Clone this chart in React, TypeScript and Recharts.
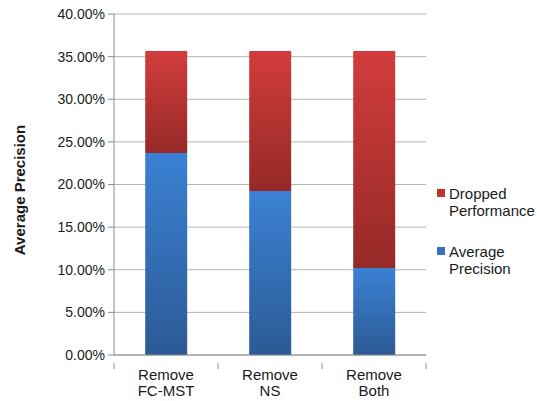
import React from 'react';
import { BarChart, Bar, XAxis, YAxis, CartesianGrid, Label } from 'recharts';

const categories = ['Remove\nFC-MST', 'Remove\nNS', 'Remove\nBoth'];
const averagePrecision = [0.237, 0.1925, 0.102];
const droppedPerformance = [0.1195, 0.164, 0.2545];
const yTicks = [0, 0.05, 0.1, 0.15, 0.2, 0.25, 0.3, 0.35, 0.4];

const data = categories.map((name, i) => ({
  name,
  ap: averagePrecision[i],
  dropped: droppedPerformance[i],
}));

const FONT = '"Liberation Sans", Arial, sans-serif';

const CategoryTick = (props: any) => {
  const { x, y, payload, index } = props;
  const off = payload.offset || 0;
  const lines = String(payload.value).split('\n');
  return (
    <g>
      <line x1={x - off} x2={x - off} y1={y} y2={y + 6} stroke="#8c8c8c" />
      {index === categories.length - 1 && (
        <line x1={x + off} x2={x + off} y1={y} y2={y + 6} stroke="#8c8c8c" />
      )}
      <text x={x} y={y} textAnchor="middle" fontFamily={FONT} fontSize={15} fill="#1a1a1a">
        {lines.map((l, i) => (
          <tspan key={i} x={x} dy={i === 0 ? 17 : 16}>
            {l}
          </tspan>
        ))}
      </text>
    </g>
  );
};

const legendItems = [
  { lines: ['Dropped', 'Performance'], color: '#c2302f' },
  { lines: ['Average', 'Precision'], color: '#3672c0' },
];

export default function App() {
  return (
    <div style={{ position: 'absolute', left: 0, top: 0, width: 537, height: 401, background: '#fff' }}>
      <BarChart
        width={537}
        height={401}
        data={data}
        margin={{ top: 14, right: 111, left: 0, bottom: 0 }}
        barCategoryGap="30%"
      >
        <defs>
          <linearGradient id="gBlue" x1="0" y1="0" x2="0" y2="1">
            <stop offset="0%" stopColor="#3b81d3" />
            <stop offset="100%" stopColor="#2c5a96" />
          </linearGradient>
          <linearGradient id="gRed" x1="0" y1="0" x2="0" y2="1">
            <stop offset="0%" stopColor="#d23d3c" />
            <stop offset="100%" stopColor="#952927" />
          </linearGradient>
        </defs>
        <CartesianGrid vertical={false} stroke="#b5b5b5" />
        <XAxis
          dataKey="name"
          height={46}
          stroke="#8c8c8c"
          tickLine={false}
          tick={<CategoryTick />}
          interval={0}
        />
        <YAxis
          width={114}
          domain={[0, 0.4]}
          ticks={yTicks}
          tickFormatter={(v: number) => (v * 100).toFixed(2) + '%'}
          stroke="#8c8c8c"
          tickSize={6}
          tickMargin={3}
          tick={{ fontFamily: FONT, fontSize: 14, fill: '#1a1a1a' }}
        >
          <Label
            content={() => (
              <text
                x={25}
                y={190}
                transform="rotate(-90 25 190)"
                textAnchor="middle"
                fontFamily={FONT}
                fontSize={15}
                fontWeight="bold"
                fill="#1a1a1a"
              >
                Average Precision
              </text>
            )}
          />
        </YAxis>
        <Bar dataKey="ap" stackId="a" fill="url(#gBlue)" isAnimationActive={false} />
        <Bar dataKey="dropped" stackId="a" fill="url(#gRed)" isAnimationActive={false} />
      </BarChart>
      <div
        style={{
          position: 'absolute',
          left: 437,
          top: 185,
          fontFamily: FONT,
          fontSize: 15,
          color: '#1a1a1a',
          lineHeight: '17px',
        }}
      >
        {legendItems.map((it, i) => (
          <div key={i} style={{ display: 'flex', alignItems: 'flex-start', marginBottom: i === 0 ? 24 : 0 }}>
            <div style={{ width: 8, height: 8, background: it.color, marginTop: 4, marginRight: 4 }} />
            <div>
              {it.lines.map((l, j) => (
                <div key={j}>{l}</div>
              ))}
            </div>
          </div>
        ))}
      </div>
    </div>
  );
}
